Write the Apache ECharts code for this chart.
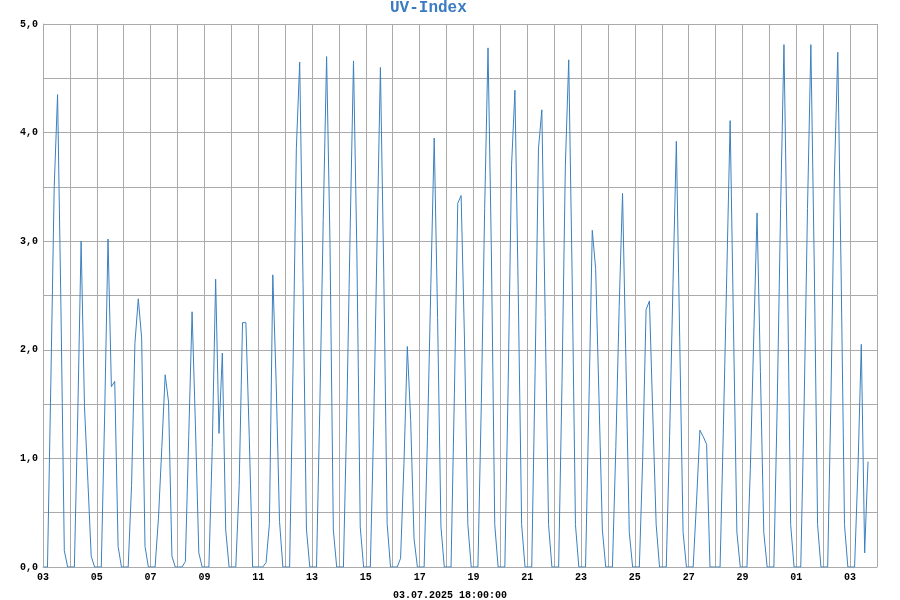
<!DOCTYPE html>
<html>
<head>
<meta charset="utf-8">
<script src="https://cdn.jsdelivr.net/npm/echarts@6/dist/echarts.min.js"></script>
<style>html,body{margin:0;padding:0;background:#fff}#c{width:900px;height:600px}</style>
</head>
<body>
<div id="c"></div>
<script>
// Start of the x range: 03.06.2025 00:00 (day index 0)
const startYear = 2025, startMonth = 5, startDay = 3;
const dayCount = 31;
// Sample hours within each day
const sampleHours = [1, 4, 7, 10, 13, 16, 19, 22];
// UV index per day, one row per day (03.06 ... 03.07)
const uvByDay = [
  [0, 0, 1.7, 3.5, 4.35, 2.4, 0.15, 0],    // 03.06
  [0, 0, 1.4, 3.0, 1.48, 0.8, 0.1, 0],     // 04.06
  [0, 0, 1.4, 3.02, 1.66, 1.71, 0.19, 0],  // 05.06
  [0, 0, 0.75, 2.06, 2.47, 2.11, 0.19, 0], // 06.06
  [0, 0, 0.45, 1.1, 1.77, 1.52, 0.1, 0],   // 07.06
  [0, 0, 0.05, 1.2, 2.35, 1.3, 0.13, 0],   // 08.06
  [0, 0, 1.1, 2.65, 1.23, 1.97, 0.34, 0],  // 09.06
  [0, 0, 0.75, 2.25, 2.25, 1.2, 0, 0],     // 10.06
  [0, 0, 0.04, 0.4, 2.69, 1.7, 0.42, 0],   // 11.06
  [0, 0, 1.8, 3.85, 4.65, 2.6, 0.35, 0],   // 12.06
  [0, 0, 1.5, 3.2, 4.7, 3.0, 0.34, 0],     // 13.06
  [0, 0, 1.4, 3.1, 4.66, 2.9, 0.37, 0],    // 14.06
  [0, 0, 1.3, 3.0, 4.6, 2.7, 0.4, 0],      // 15.06
  [0, 0, 0.08, 0.95, 2.03, 1.35, 0.26, 0], // 16.06
  [0, 0, 1.2, 2.6, 3.95, 2.3, 0.37, 0],    // 17.06
  [0, 0, 1.6, 3.35, 3.42, 2.1, 0.39, 0],   // 18.06
  [0, 0, 1.5, 3.3, 4.78, 2.9, 0.39, 0],    // 19.06
  [0, 0, 1.7, 3.7, 4.39, 2.5, 0.39, 0],    // 20.06
  [0, 0, 1.8, 3.85, 4.21, 2.3, 0.39, 0],   // 21.06
  [0, 0, 1.7, 3.7, 4.67, 2.7, 0.39, 0],    // 22.06
  [0, 0, 1.5, 3.1, 2.75, 1.55, 0.34, 0],   // 23.06
  [0, 0, 1.1, 2.4, 3.44, 1.9, 0.32, 0],    // 24.06
  [0, 0, 1.0, 2.37, 2.45, 1.4, 0.39, 0],   // 25.06
  [0, 0, 1.2, 2.6, 3.92, 2.1, 0.32, 0],    // 26.06
  [0, 0, 0.6, 1.26, 1.2, 1.13, 0, 0],      // 27.06
  [0, 0, 1.3, 2.7, 4.11, 2.2, 0.32, 0],    // 28.06
  [0, 0, 0.9, 2.1, 3.26, 1.8, 0.32, 0],    // 29.06
  [0, 0, 1.5, 3.3, 4.81, 2.8, 0.39, 0],    // 30.06
  [0, 0, 1.5, 3.3, 4.81, 2.8, 0.39, 0],    // 01.07
  [0, 0, 1.6, 3.6, 4.74, 2.7, 0.39, 0],    // 02.07
  [0, 0, 0.9, 2.05, 0.13, 0.97]            // 03.07
];
const titleText = 'UV-Index';
const footerText = '03.07.2025 18:00:00';

const points = [];
uvByDay.forEach(function (row, d) {
  row.forEach(function (v, i) {
    points.push([d + sampleHours[i] / 24, v]);
  });
});

const mono = 'Liberation Mono, Courier New, monospace';
const gridColor = '#aaaaaa';
const chart = echarts.init(document.getElementById('c'), null, {renderer: 'canvas'});
chart.setOption({
  animation: false,
  backgroundColor: '#ffffff',
  title: [
    {text: titleText, left: 390, top: 0, padding: 0,
     textStyle: {fontFamily: mono, fontSize: 16, fontWeight: 'bold', color: '#3b7bbf'}},
    {text: footerText, left: 'center', top: 590, padding: 0,
     textStyle: {fontFamily: mono, fontSize: 10, fontWeight: 'bold', color: '#000'}}
  ],
  grid: {left: 43, right: 23, top: 24, bottom: 33, containLabel: false},
  xAxis: {
    type: 'value', min: 0, max: dayCount, interval: 1,
    axisLine: {show: true, lineStyle: {color: gridColor, width: 1}},
    axisTick: {show: false},
    splitLine: {show: true, lineStyle: {color: gridColor, width: 1}},
    axisLabel: {
      margin: 5, fontFamily: mono, fontSize: 10, fontWeight: 'bold', color: '#000',
      formatter: function (v) {
        if (v % 2 !== 0) return '';
        const d = new Date(startYear, startMonth, startDay + v).getDate();
        return (d < 10 ? '0' : '') + d;
      }
    }
  },
  yAxis: {
    type: 'value', min: 0, max: 5, interval: 0.5,
    axisLine: {show: true, lineStyle: {color: gridColor, width: 1}},
    axisTick: {show: false},
    splitLine: {show: true, lineStyle: {color: gridColor, width: 1}},
    axisLabel: {
      margin: 5, fontFamily: mono, fontSize: 10, fontWeight: 'bold', color: '#000',
      formatter: function (v) {
        return Math.abs(v - Math.round(v)) < 1e-9 ? v.toFixed(1).replace('.', ',') : '';
      }
    }
  },
  series: [{
    type: 'line', data: points, showSymbol: false, symbol: 'none',
    lineStyle: {color: '#3c80be', width: 1}, silent: true
  }]
});
</script>
</body>
</html>
